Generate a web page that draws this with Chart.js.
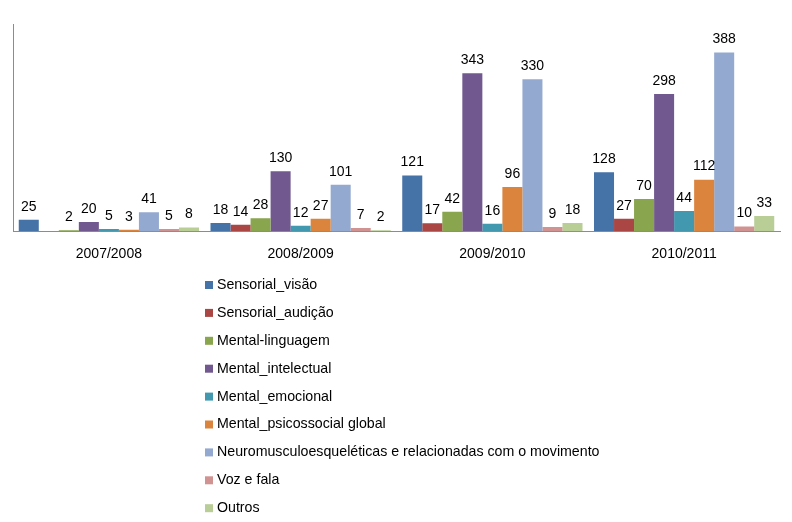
<!DOCTYPE html>
<html>
<head>
<meta charset="utf-8">
<script src="https://cdn.jsdelivr.net/npm/chart.js@4.4.1/dist/chart.umd.min.js"></script>
<style>
  html, body { margin: 0; padding: 0; background: #fff; }
</style>
</head>
<body>
<canvas id="myChart" width="792" height="522"></canvas>
<script>
// school years on the x axis
const anos = ['2007/2008', '2008/2009', '2009/2010', '2010/2011'];

// one list per type of need (null = no cases reported)
const sensorialVisao     = [25, 18, 121, 128];
const sensorialAudicao   = [null, 14, 17, 27];
const mentalLinguagem    = [2, 28, 42, 70];
const mentalIntelectual  = [20, 130, 343, 298];
const mentalEmocional    = [5, 12, 16, 44];
const mentalPsicossocial = [3, 27, 96, 112];
const neuromusculo       = [41, 101, 330, 388];
const vozFala            = [5, 7, 9, 10];
const outros             = [8, 2, 18, 33];

const nomes = [
  'Sensorial_visão',
  'Sensorial_audição',
  'Mental-linguagem',
  'Mental_intelectual',
  'Mental_emocional',
  'Mental_psicossocial global',
  'Neuromusculoesqueléticas e relacionadas com o movimento',
  'Voz e fala',
  'Outros'
];
const series = [sensorialVisao, sensorialAudicao, mentalLinguagem, mentalIntelectual,
  mentalEmocional, mentalPsicossocial, neuromusculo, vozFala, outros];
const cores = ['#4572A7', '#AA4643', '#89A54E', '#71588F', '#4198AF',
  '#DB843D', '#93A9CF', '#D19392', '#B9CD96'];

const fonte = '"Liberation Sans", Arial, sans-serif';

// numbers above each bar
const valueLabels = {
  id: 'valueLabels',
  afterDatasetsDraw(chart) {
    const ctx = chart.ctx;
    ctx.save();
    ctx.font = '14px ' + fonte;
    ctx.fillStyle = '#000';
    ctx.textAlign = 'center';
    ctx.textBaseline = 'bottom';
    chart.data.datasets.forEach((ds, i) => {
      const meta = chart.getDatasetMeta(i);
      meta.data.forEach((bar, j) => {
        if (ds.data[j] == null) return;
        ctx.fillText(ds.data[j], bar.x, bar.y - 6);
      });
    });
    ctx.restore();
  }
};

// legend as a single column under the plot
const sideLegend = {
  id: 'sideLegend',
  afterDraw(chart) {
    const ctx = chart.ctx;
    ctx.save();
    ctx.font = '14.2px ' + fonte;
    ctx.textBaseline = 'middle';
    chart.data.datasets.forEach((ds, i) => {
      const y = 285 + i * 27.9;
      ctx.fillStyle = ds.backgroundColor;
      ctx.fillRect(205, y - 4, 8, 8);
      ctx.fillStyle = '#000';
      ctx.fillText(ds.label, 217, y);
    });
    ctx.restore();
  }
};

const myChart = new Chart(document.getElementById('myChart'), {
  type: 'bar',
  data: {
    labels: anos,
    datasets: series.map((d, i) => ({
      label: nomes[i],
      data: d,
      backgroundColor: cores[i],
      borderWidth: 0,
      categoryPercentage: 0.94,
      barPercentage: 1
    }))
  },
  options: {
    responsive: false,
    animation: false,
    layout: { padding: { left: 5, right: 12, top: 24, bottom: 252 } },
    plugins: {
      legend: { display: false },
      tooltip: { enabled: false }
    },
    scales: {
      x: {
        grid: { display: false },
        border: { display: true, color: '#8C8C8C' },
        ticks: { color: '#000', font: { family: fonte, size: 14 }, padding: 7 }
      },
      y: {
        min: 0,
        max: 450,
        grid: { display: false },
        border: { display: true, color: '#8C8C8C' },
        ticks: { display: false }
      }
    }
  },
  plugins: [valueLabels, sideLegend]
});
</script>
</body>
</html>
